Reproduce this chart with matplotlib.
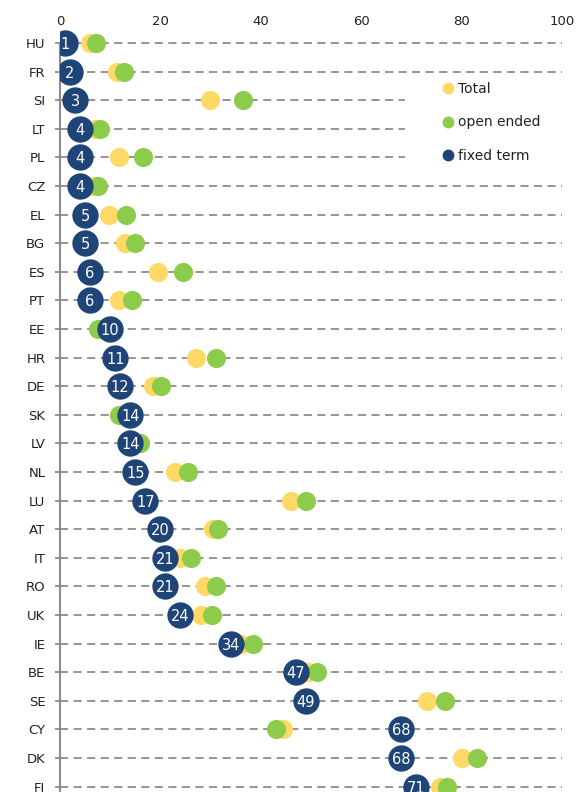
import matplotlib
matplotlib.use("Agg")
import matplotlib.pyplot as plt
from matplotlib.lines import Line2D
from matplotlib.patches import Rectangle

countries = ["HU", "FR", "SI", "LT", "PL", "CZ", "EL", "BG", "ES", "PT", "EE", "HR", "DE",
             "SK", "LV", "NL", "LU", "AT", "IT", "RO", "UK", "IE", "BE", "SE", "CY", "DK", "FI"]
fixed_term = [1, 2, 3, 4, 4, 4, 5, 5, 6, 6, 10, 11, 12, 14, 14, 15, 17, 20, 21, 21, 24, 34, 47, 49, 68, 68, 71]
open_ended = [7.1, 12.8, 36.4, 8, 16.5, 7.5, 13.1, 15.0, 24.6, 14.3, 7.6, 31.1, 20.1,
              11.8, 15.9, 25.4, 49, 31.5, 26, 31.1, 30.3, 38.5, 51.1, 76.7, 43.1, 83.1, 77]
total = [6, 11.3, 29.9, 7, 11.8, 6.5, 9.8, 12.9, 19.5, 11.8, 9, 27, 18.5,
         13, 14.8, 23, 46, 30.5, 23.9, 28.9, 28, 36, 49.5, 73.2, 44.4, 80, 75.7]

NAVY = "#1f4477"
GREEN = "#8dcc4b"
YELLOW = "#ffd966"
GRID = "#8c8c8c"

fig = plt.figure(figsize=(5.79, 7.92), dpi=100)
# last row (FI) is cut by the bottom edge, as in the source picture
row_px = 28.6
ax = fig.add_axes([60 / 579, (792 - (786.6 + row_px / 2)) / 792, 502 / 579, 27 * row_px / 792])

ypos = list(range(len(countries)))

ax.hlines(ypos, 0, 100, colors=GRID, linestyles=(0, (4.5, 3)), linewidth=1.3, zorder=1)
ax.add_patch(Rectangle((68.7, 1.4), 33, 3.3, facecolor="white", edgecolor="none", zorder=2,
                       clip_on=False))

ax.scatter(total, ypos, s=190, color=YELLOW, linewidths=0, zorder=3)
ax.scatter(open_ended, ypos, s=190, color=GREEN, linewidths=0, zorder=4)
ax.scatter(fixed_term, ypos, s=360, color=NAVY, linewidths=0, zorder=5)
for y, v in zip(ypos, fixed_term):
    ax.text(v, y, str(v), color="white", fontsize=10.5, ha="center", va="center_baseline", zorder=6)

ax.set_xlim(0, 100)
ax.set_ylim(len(countries) - 0.5, -0.5)
ax.set_xticks([0, 20, 40, 60, 80, 100])
ax.set_yticks(ypos)
ax.set_yticklabels(countries)
ax.xaxis.tick_top()
ax.tick_params(axis="x", length=0, pad=0.8, labelsize=9.5, colors="#222222")
ax.tick_params(axis="y", length=3.6, width=1.3, color=GRID, pad=7, labelsize=9.5, labelcolor="#222222")

for side in ["top", "right", "bottom"]:
    ax.spines[side].set_visible(False)
ax.spines["left"].set_color(GRID)
ax.spines["left"].set_linewidth(1.5)
ax.spines["left"].set_bounds(len(countries) - 0.5, 0)

handles = [
    Line2D([], [], marker="o", linestyle="none", markersize=7.5, color=YELLOW, label="Total"),
    Line2D([], [], marker="o", linestyle="none", markersize=7.5, color=GREEN, label="open ended"),
    Line2D([], [], marker="o", linestyle="none", markersize=7.5, color=NAVY, label="fixed term"),
]
leg = fig.legend(handles=handles, loc="upper left", bbox_to_anchor=(443 / 579, 1 - 82 / 792),
                 frameon=False, fontsize=10, borderpad=0, borderaxespad=0,
                 handlelength=0.7, handletextpad=0.38, labelspacing=1.4)
for t in leg.get_texts():
    t.set_color("#222222")

fig.savefig("out.png", dpi=100)
